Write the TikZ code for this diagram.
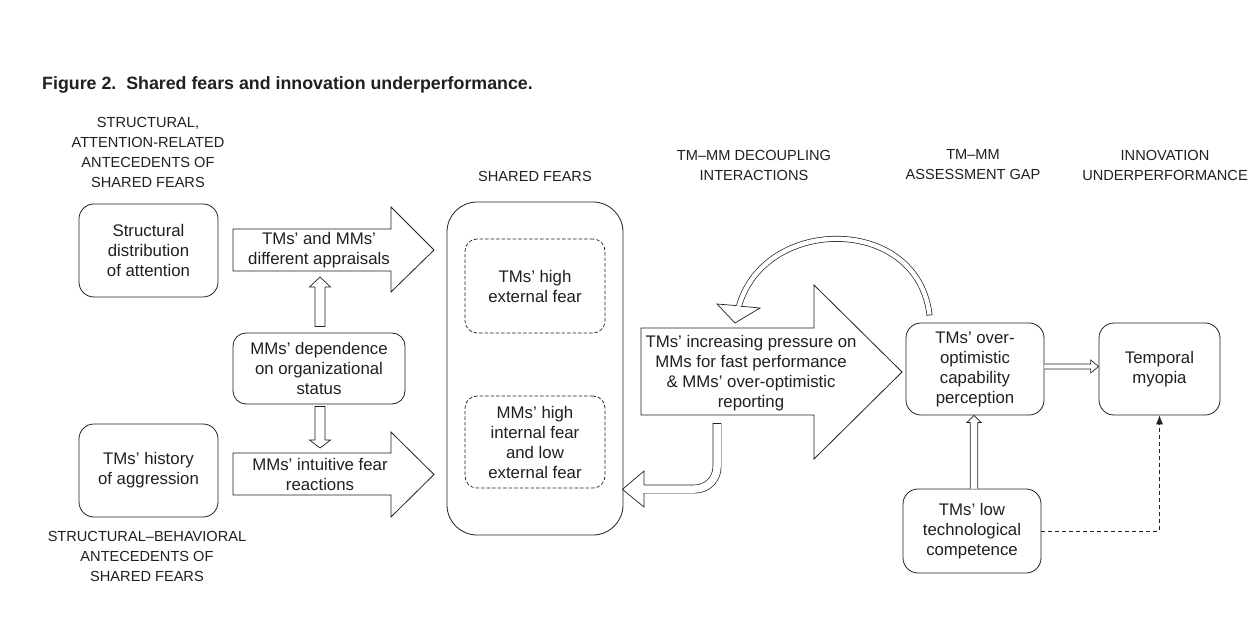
\documentclass[tikz,border=0pt]{standalone}
\usepackage{fontspec}
\setmainfont{Liberation Sans}
\usetikzlibrary{calc,arrows.meta}
\definecolor{ink}{HTML}{231F20}
\newcommand\boxfont{\fontsize{16.8}{20}\selectfont}
\newcommand\hdfont{\fontsize{14.6}{20}\selectfont}
\begin{document}
\begin{tikzpicture}[x=1pt,y=-1pt,line join=miter,
  every node/.style={text=ink},
  box/.style={draw=ink,line width=0.8pt,rounded corners=15pt,align=center,font=\boxfont,inner sep=0pt},
  dbox/.style={draw=ink,line width=0.7pt,dash pattern=on 3.5pt off 2pt,rounded corners=12pt,align=center,font=\boxfont,inner sep=0pt},
  hollow/.style={draw=ink,line width=0.7pt,fill=white},
  thin/.style={draw=ink,line width=0.7pt},
  band/.style={draw=ink,line width=0.7pt,double=white},
  lbl/.style={align=center,font=\boxfont,inner sep=0pt},
  heading/.style={align=center,font=\hdfont,inner sep=0pt}]
\fill[white] (0,0) rectangle (1255,617);
\path[use as bounding box] (0,0) rectangle (1255,617);

% title and headings
\node[anchor=base west,inner sep=0pt,font=\fontsize{17.8}{20}\bfseries\selectfont] (title) at (42,90)
  {Figure 2.\ \ Shared fears and innovation underperformance.};
\node[heading] (h1) at (148,152.5) {STRUCTURAL,\\ATTENTION-RELATED\\ANTECEDENTS OF\\SHARED FEARS};
\node[heading] (h2) at (535,176) {SHARED FEARS};
\node[heading] (h3) at (754,165) {TM–MM DECOUPLING\\INTERACTIONS};
\node[heading] (h4) at (973,165) {TM–MM\\ASSESSMENT GAP};
\node[heading] (h5) at (1165,165) {INNOVATION\\UNDERPERFORMANCE};
\node[heading] (h6) at (147,556) {STRUCTURAL–BEHAVIORAL\\ANTECEDENTS OF\\SHARED FEARS};

% boxes
\node[box,minimum width=139pt,minimum height=93pt] (struct) at (148.5,250.5) {Structural\\distribution\\of attention};
\node[box,minimum width=139pt,minimum height=93pt] (hist) at (148.5,470.5) {TMs’ history\\of aggression};
\node[box,rounded corners=13pt,minimum width=172pt,minimum height=71pt] (dep) at (319,368.5) {MMs’ dependence\\on organizational\\status};
\node[box,rounded corners=30pt,minimum width=176pt,minimum height=333pt] (shared) at (535,368.5) {};
\node[dbox,minimum width=140pt,minimum height=94pt] (tmfear) at (535,286) {TMs’ high\\external fear};
\node[dbox,minimum width=140pt,minimum height=92pt] (mmfear) at (535,442) {MMs’ high\\internal fear\\and low\\external fear};
\node[box,minimum width=138pt,minimum height=92pt] (overopt) at (975,369) {TMs’ over-\\optimistic\\capability\\perception};
\node[box,minimum width=121pt,minimum height=92pt] (myopia) at (1159.5,369) {Temporal\\myopia};
\node[box,minimum width=138pt,minimum height=84pt] (lowtech) at (972,531) {TMs’ low\\technological\\competence};

% big block arrows
\draw[hollow,line width=0.8pt] (233,229) -- (391,229) -- (391,207) -- (434,250) -- (391,292) -- (391,271) -- (233,271) -- cycle;
\node[lbl] (appr) at (319,250) {TMs’ and MMs’\\different appraisals};
\draw[hollow,line width=0.8pt] (233,453) -- (391,453) -- (391,432) -- (434,474.5) -- (391,517) -- (391,495) -- (233,495) -- cycle;
\node[lbl] (intu) at (320,474.5) {MMs’ intuitive fear\\reactions};
\draw[hollow,line width=0.8pt] (641,328) -- (814,328) -- (814,285) -- (902,372) -- (814,459) -- (814,415) -- (641,415) -- cycle;
\node[lbl] (press) at (751,373) {TMs’ increasing pressure on\\MMs for fast performance\\\& MMs’ over-optimistic\\reporting};

\coordinate (a1s) at (320,271);
\coordinate (a2n) at (320,453);

% dep -> appraisals arrow (up)
\coordinate (u1) at ($(dep.north)+(1,-6)$);
\coordinate (u2) at ($(a1s)+(0,6)$);
\draw[hollow] ($(u1)+(-5,0)$) -- ($(u2)+(-5,10)$) -- ($(u2)+(-10.5,10)$) -- (u2) -- ($(u2)+(10.5,10)$) -- ($(u2)+(5,10)$) -- ($(u1)+(5,0)$) -- cycle;
% dep -> intuitive arrow (down)
\coordinate (d1) at ($(dep.south)+(1,2)$);
\coordinate (d2) at ($(a2n)+(0,-5)$);
\draw[hollow] ($(d1)+(-5,0)$) -- ($(d2)+(-5,-8)$) -- ($(d2)+(-10.5,-8)$) -- (d2) -- ($(d2)+(10.5,-8)$) -- ($(d2)+(5,-8)$) -- ($(d1)+(5,0)$) -- cycle;

% curved arrow overopt -> pressure
\coordinate (arcS) at (929.5,315);
\coordinate (arcE) at (739,306);
\draw[band,double distance=4.5pt] (arcS) .. controls (918,215) and (765,215) .. (arcE);
\draw[thin] (926.6,315.3) -- (932.4,314.7);
\draw[thin] (736.4,305.6) -- (717,304) -- (735,323) -- (760,308) -- (741.6,306.3);

% curved arrow pressure -> shared fears
\coordinate (bS) at (717,423);
\coordinate (bE) at (644,489);
\draw[band,double distance=7.5pt,rounded corners=22pt] (bS) -- (bS |- bE) -- (bE);
\draw[thin] (712.9,423) -- (721.1,423);
\draw[thin] (644,484.9) -- (644,471) -- ($(shared.south east)+(-1,-46)$) -- (644,507) -- (644,493.1);

% overopt -> myopia
\coordinate (h1) at ($(overopt.east)+(0,-2.5)$);
\coordinate (h2) at (h1 -| myopia.west);
\draw[hollow] ($(h1)+(0,-2.5)$) -- ($(h2)+(-8,-2.5)$) -- ($(h2)+(-8,-6.5)$) -- (h2) -- ($(h2)+(-8,6.5)$) -- ($(h2)+(-8,2.5)$) -- ($(h1)+(0,2.5)$);

% lowtech -> overopt
\coordinate (v2) at ($(overopt.south)+(-1,0)$);
\coordinate (v1) at (v2 |- lowtech.north);
\draw[hollow] ($(v1)+(-3.8,0)$) -- ($(v2)+(-3.8,7)$) -- ($(v2)+(-7,7)$) -- (v2) -- ($(v2)+(7,7)$) -- ($(v2)+(3.8,7)$) -- ($(v1)+(3.8,0)$);

% lowtech -> myopia (dashed)
\draw[ink,line width=0.7pt,dash pattern=on 4pt off 3pt,-{Latex[length=9pt,width=7pt]}] (lowtech.east) -| (myopia.south);
\end{tikzpicture}
\end{document}
